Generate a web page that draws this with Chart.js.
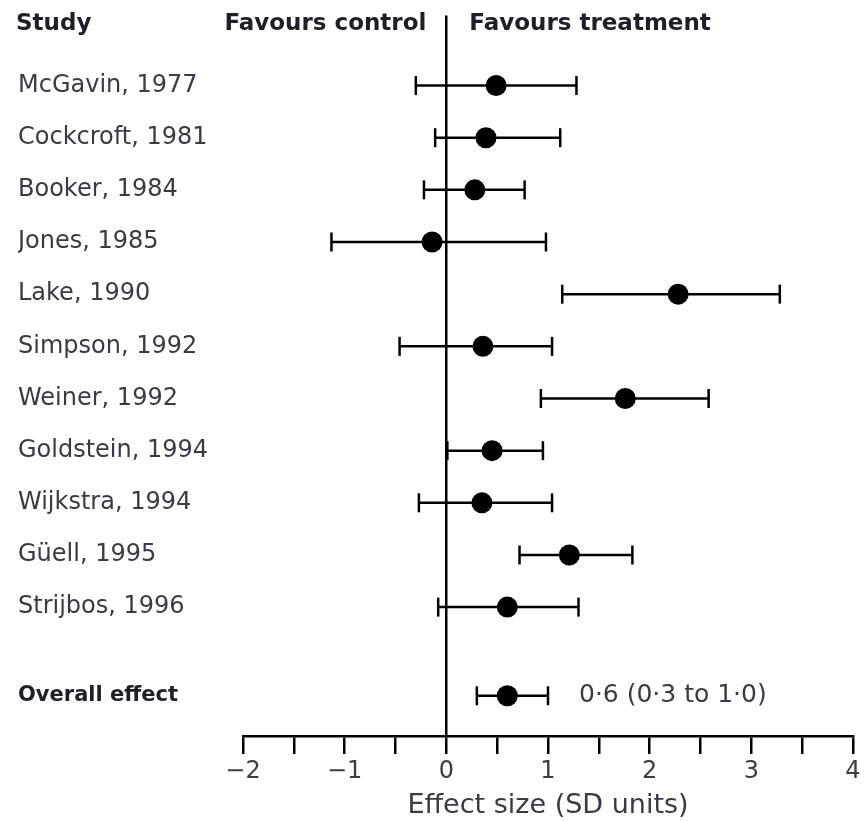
<!DOCTYPE html>
<html>
<head>
<meta charset="utf-8">
<title>Effect size forest plot</title>
<script src="https://cdn.jsdelivr.net/npm/chart.js@4/dist/chart.umd.min.js"></script>
<style>
  html, body { margin: 0; padding: 0; background: #fff; }
  #wrap { width: 865px; height: 822px; position: relative; }
</style>
</head>
<body>
<div id="wrap"><canvas id="forest"></canvas></div>
<script>
// Forest plot: study effect sizes with 95% CI, plus pooled estimate.

const studies = [
  'McGavin, 1977', 'Cockcroft, 1981', 'Booker, 1984', 'Jones, 1985',
  'Lake, 1990', 'Simpson, 1992', 'Weiner, 1992', 'Goldstein, 1994',
  'Wijkstra, 1994', 'Güell, 1995', 'Strijbos, 1996'
];
const effect = [0.49, 0.39, 0.28, -0.14, 2.28, 0.36, 1.76, 0.45, 0.35, 1.21, 0.60];
const lower  = [-0.30, -0.11, -0.22, -1.13, 1.14, -0.46, 0.93, 0.01, -0.27, 0.72, -0.08];
const upper  = [1.28, 1.12, 0.77, 0.98, 3.28, 1.04, 2.58, 0.95, 1.04, 1.83, 1.30];

const overallLabel = 'Overall effect';
const overallEffect = 0.6;
const overallLower = 0.3;
const overallUpper = 1.0;

const xTicks = [-2, -1, 0, 1, 2, 3, 4];

// rows sit at 0..10, pooled row a bit further down
const overallRow = studies.length + 0.7;
const rows = studies.map((_, i) => i).concat([overallRow]);
const labels = studies.concat([overallLabel]);
const allEffect = effect.concat([overallEffect]);
const allLower = lower.concat([overallLower]);
const allUpper = upper.concat([overallUpper]);

const FONT = '"DejaVu Sans", Verdana, sans-serif';
const TEXT = '#3a3a46';
const HEAD = '#1e1e2c';

const fmtDot = v => v.toFixed(1).replace('-', '−').replace('.', '·');

const ciSets = rows.map((r, i) => ({
  type: 'scatter',
  data: [{ x: allLower[i], y: r }, { x: allUpper[i], y: r }],
  showLine: true,
  borderColor: '#000',
  borderWidth: 2.5,
  pointStyle: 'line',
  pointRotation: 90,
  pointRadius: 9.5,
  pointBorderWidth: 2.5,
  pointBorderColor: '#000',
  pointHoverRadius: 9.5,
  order: 1,
  clip: false,
}));

const dotSet = {
  type: 'scatter',
  data: rows.map((r, i) => ({ x: allEffect[i], y: r })),
  pointRadius: 10.5,
  pointHoverRadius: 10.5,
  backgroundColor: '#000',
  borderWidth: 0,
  order: 0,
  clip: false,
};

const headers = {
  id: 'headers',
  afterDraw(chart) {
    const { ctx, scales } = chart;
    const x0 = scales.x.getPixelForValue(0);
    ctx.save();
    ctx.fillStyle = HEAD;
    ctx.font = 'bold 23px ' + FONT;
    ctx.textBaseline = 'middle';
    ctx.textAlign = 'left';
    ctx.fillText('Study', scales.y.left - 2, 24);
    ctx.textAlign = 'right';
    ctx.fillText('Favours control', x0 - 20, 24);
    ctx.textAlign = 'left';
    ctx.fillText('Favours treatment', x0 + 23, 24);

    // pooled estimate text
    ctx.fillStyle = TEXT;
    ctx.font = '25px ' + FONT;
    const tx = scales.x.getPixelForValue(overallUpper) + 31;
    const ty = scales.y.getPixelForValue(overallRow);
    ctx.fillText(`${fmtDot(overallEffect)} (${fmtDot(overallLower)} to ${fmtDot(overallUpper)})`, tx, ty);
    ctx.restore();
  }
};

new Chart(document.getElementById('forest'), {
  type: 'scatter',
  data: { datasets: [dotSet, ...ciSets] },
  plugins: [headers],
  options: {
    responsive: true,
    maintainAspectRatio: false,
    animation: false,
    layout: { padding: { top: 15, left: 18, right: 10, bottom: 0 } },
    plugins: { legend: { display: false }, tooltip: { enabled: false } },
    scales: {
      x: {
        type: 'linear',
        position: 'bottom',
        min: -2,
        max: 4,
        afterFit: s => { s.height = 86; },
        ticks: {
          stepSize: 0.5,
          autoSkip: false,
          maxRotation: 0,
          padding: 3,
          color: '#3c3c48',
          font: { family: FONT, size: 24 },
          callback: v => (xTicks.includes(v) ? String(v).replace('-', '−') : ''),
        },
        grid: {
          drawOnChartArea: true,
          color: c => (c.tick && c.tick.value === 0 ? '#000' : 'rgba(0,0,0,0)'),
          lineWidth: 2.5,
          tickLength: 18,
          tickColor: '#000',
          tickWidth: 2.5,
        },
        border: { display: true, color: '#000', width: 2.5 },
        title: {
          display: true,
          text: 'Effect size (SD units)',
          color: TEXT,
          font: { family: FONT, size: 27 },
          padding: { top: 0, bottom: 0 },
        },
      },
      y: {
        type: 'linear',
        position: 'left',
        reverse: true,
        min: -1.341,
        max: 12.471,
        afterFit: s => { s.width = 225; },
        afterBuildTicks: s => { s.ticks = rows.map(v => ({ value: v })); },
        ticks: {
          autoSkip: false,
          crossAlign: 'far',
          callback: (v, i) => labels[i],
          color: c => (c.index === labels.length - 1 ? HEAD : TEXT),
          font: c => (c.index === labels.length - 1
            ? { family: FONT, size: 21, weight: 'bold' }
            : { family: FONT, size: 24 }),
        },
        grid: { display: false },
        border: { display: false },
      },
    },
  },
});
</script>
</body>
</html>
